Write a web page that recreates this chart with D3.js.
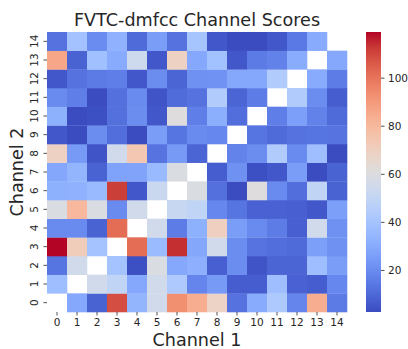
<!doctype html>
<html>
<head>
<meta charset="utf-8">
<title>FVTC-dmfcc Channel Scores</title>
<script src="https://d3js.org/d3.v7.min.js"></script>
<style>
  body { margin: 0; background: #fff; }
  text { font-family: "DejaVu Sans", sans-serif; fill: #262626; }
</style>
</head>
<body>
<script>
// channel indices (both axes)
const channels = d3.range(15);
// scores, one row per Channel 2 index (row 0 = bottom), columns = Channel 1; null on the diagonal
const row0  = [null, 29, 8.5, 108.5, 33.5, 55, 93, 84, 68, 12.5, 30, 42.5, 18, 84, 15];
const row1  = [37.5, null, 55, 49, 29, 55, 42.5, 18, 24.5, 7, 7, 37.5, 8, 7, 18.5];
const row2  = [13.5, 55, null, 39.5, 3.5, 59, 29, 31.5, 7.5, 20.5, 4.5, 9, 9, 37.5, 25.5];
const row3  = [119, 71, 39.5, null, 101.5, 36, 114, 28.5, 55, 20.5, 13, 11.5, 10.5, 26, 21.5];
const row4  = [19.5, 19.5, 8.5, 101.5, null, 55, 15.5, 32, 70, 25.5, 19.5, 15.5, 7.5, 55, 21.5];
const row5  = [59, 80, 59, 19.5, 55, null, 51.5, 49, 18.5, 13.5, 8, 8, 7.5, 5.5, 26];
const row6  = [32, 32.5, 35.5, 111.5, 5.5, 52.5, null, 59, 12, 2.5, 61, 19.5, 11.5, 49, 8.5];
const row7  = [28.5, 33.5, 8.5, 27, 27.5, 35.5, 59, null, 7, 21.5, 3.5, 5.5, 25.5, 2.5, 8.5];
const row8  = [69, 24.5, 4.5, 55, 74, 13, 24.5, 9, null, 17.5, 20.5, 43.5, 19.5, 37.5, 2.5];
const row9  = [5.5, 2.5, 20.5, 11.5, 2.5, 25.5, 13.5, 19.5, 18.5, null, 13.5, 10.5, 12.5, 13.5, 13];
const row10 = [32, 2.5, 3.5, 12, 20.5, 5.5, 61, 16, 31, 11.5, null, 16, 26, 17, 10.5];
const row11 = [19.5, 16, 2.5, 12, 19.5, 4.5, 11, 12.5, 43.5, 9, 15.5, null, 43.5, 20.5, 7];
const row12 = [5.5, 12.5, 15, 16, 5.5, 20.5, 9, 21.5, 22, 29, 29, 43.5, null, 30, 15.5];
const row13 = [86, 8.5, 38, 30, 54, 5.5, 69, 29, 38.5, 5.5, 15, 17, 30.5, null, 29];
const row14 = [12.5, 39, 20, 32.5, 10.5, 25.5, 12.5, 40, 5.5, 2.5, 2.5, 5.5, 14.5, 30, null];
const rows = [row0, row1, row2, row3, row4, row5, row6, row7, row8, row9, row10, row11, row12, row13, row14];
const cbarTicks = [20, 40, 60, 80, 100];

// matplotlib coolwarm
const coolwarmStops = ["#3b4cc0","#445acc","#4d68d7","#5775e1","#6282ea","#6c8ef1","#779af7","#82a5fb",
  "#8db0fe","#98b9ff","#a3c2ff","#aec9fd","#b8d0f9","#c2d5f4","#ccd9ee","#d5dbe6","#dddddd",
  "#e5d8d1","#ecd3c5","#f1ccb9","#f5c4ad","#f7bba0","#f7b194","#f7a687","#f49a7b","#f18d6f",
  "#ec7f63","#e57058","#de604d","#d55042","#cb3e38","#c0282f","#b40426"];
const coolwarm = d3.interpolateRgbBasis(coolwarmStops);

const W = 408, H = 349;
const mLeft = 47, mTop = 32, mRight = 347, mBottom = 312;

const svg = d3.select("body").append("svg")
  .attr("width", W).attr("height", H);

const cells = [];
rows.forEach((r, yi) => r.forEach((v, xi) => cells.push({x: xi, y: yi, v: v})));
const vals = cells.filter(d => d.v != null).map(d => d.v);
const vmin = d3.min(vals), vmax = d3.max(vals);

const x = d3.scaleBand().domain(channels).range([mLeft, mRight]);
const y = d3.scaleBand().domain(channels.slice().reverse()).range([mTop, mBottom]);
const color = d3.scaleSequential(coolwarm).domain([vmin, vmax]);

svg.append("g").selectAll("rect")
  .data(cells.filter(d => d.v != null))
  .join("rect")
  .attr("x", d => x(d.x))
  .attr("y", d => y(d.y))
  .attr("width", x.bandwidth() + 0.3)
  .attr("height", y.bandwidth() + 0.3)
  .attr("fill", d => color(d.v));

// x axis
const xAxis = svg.append("g")
  .attr("transform", "translate(0," + mBottom + ")")
  .call(d3.axisBottom(x).tickSize(3.5).tickPadding(3.5));
xAxis.select(".domain").remove();
xAxis.selectAll("text").style("font-size", "10.5px").attr("font-family", "DejaVu Sans");

// y axis, labels rotated
const yAxis = svg.append("g")
  .attr("transform", "translate(" + mLeft + ",0)")
  .call(d3.axisLeft(y).tickSize(3.5).tickPadding(3.5));
yAxis.select(".domain").remove();
yAxis.selectAll("text")
  .style("font-size", "10.5px")
  .attr("font-family", "DejaVu Sans")
  .attr("x", 0).attr("dy", 0)
  .attr("text-anchor", "middle")
  .attr("transform", "translate(-9.5,0) rotate(-90)");

// colorbar
const cbX = 366, cbW = 15;
const cScale = d3.scaleLinear().domain([vmin, vmax]).range([mBottom, mTop]);
const defs = svg.append("defs");
const grad = defs.append("linearGradient").attr("id", "cbgrad")
  .attr("x1", 0).attr("y1", 1).attr("x2", 0).attr("y2", 0);
d3.range(0, 1.0001, 0.05).forEach(t => {
  grad.append("stop").attr("offset", t).attr("stop-color", coolwarm(t));
});
svg.append("rect")
  .attr("x", cbX).attr("y", mTop)
  .attr("width", cbW).attr("height", mBottom - mTop)
  .attr("fill", "url(#cbgrad)");
const cAxis = svg.append("g")
  .attr("transform", "translate(" + (cbX + cbW) + ",0)")
  .call(d3.axisRight(cScale).tickValues(cbarTicks).tickSize(3.5).tickPadding(3.5));
cAxis.select(".domain").remove();
cAxis.selectAll("text").style("font-size", "10.5px").attr("font-family", "DejaVu Sans");

svg.selectAll(".tick line").attr("stroke", "#262626").attr("stroke-width", 0.8);
svg.selectAll(".tick text").attr("fill", "#262626");

// titles
svg.append("text")
  .attr("x", (mLeft + mRight) / 2).attr("y", 26)
  .attr("text-anchor", "middle")
  .style("font-size", "17.6px")
  .text("FVTC-dmfcc Channel Scores");

svg.append("text")
  .attr("x", (mLeft + mRight) / 2).attr("y", 346)
  .attr("text-anchor", "middle")
  .style("font-size", "17.6px")
  .text("Channel 1");

svg.append("text")
  .attr("transform", "translate(23," + ((mTop + mBottom) / 2) + ") rotate(-90)")
  .attr("text-anchor", "middle")
  .style("font-size", "17.6px")
  .text("Channel 2");
</script>
</body>
</html>
